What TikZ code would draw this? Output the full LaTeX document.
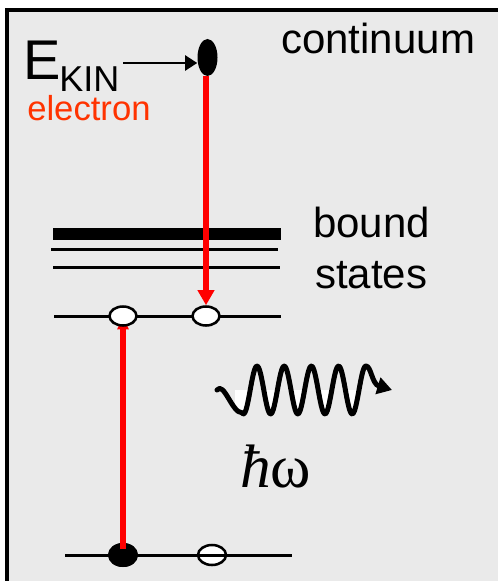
\documentclass[tikz,border=0pt]{standalone}
\usepackage{fontspec}
\setmainfont{Liberation Sans}
\newfontfamily\timesfont{Liberation Serif}
\usetikzlibrary{shapes.geometric,arrows.meta}
\definecolor{bg}{RGB}{234,234,234}
\definecolor{elred}{RGB}{255,51,0}
\begin{document}
\begin{tikzpicture}[x=0.75pt,y=-0.75pt,
  level/.style={line width=2.25pt},
  redarrow/.style={draw=red, line width=4.5pt, -{Triangle[length=11.25pt,width=12pt]}},
  openel/.style={ellipse, draw, line width=1.9pt, fill=white, inner sep=0pt, minimum width=20.25pt, minimum height=14.25pt},
  fullel/.style={ellipse, fill=black, inner sep=0pt},
  lbl/.style={inner sep=0pt, anchor=base west},
  big/.style={font=\fontsize{31.5}{38}\selectfont}]
\useasboundingbox (0,0) rectangle (498,581);
\clip (0,0) rectangle (498,581);
% frame
\draw[line width=3pt, fill=bg] (7,10) rectangle (530,620);
% texts
\node[lbl, font=\fontsize{42}{50}\selectfont] (E) at (23,80) {E};
\node[lbl, font=\fontsize{27}{32}\selectfont] (kin) at (59,92) {KIN};
\node[lbl, font=\fontsize{26}{31}\selectfont, text=elred] (elec) at (27,121) {electron};
\node[lbl, big] (cont) at (281,54) {continuum};
\node[lbl, big] (bound) at (313,237) {bound};
\node[lbl, big] (states) at (315,288) {states};
\node[lbl, font=\fontsize{46}{54}\selectfont] (hw) at (240,487) {{\timesfont\itshape ħ}{\timesfont ω}};
% bound states
\coordinate (b0l) at (53,234); \coordinate (b0r) at (281,234);
\coordinate (b1l) at (51,249); \coordinate (b1r) at (278,249);
\coordinate (b2l) at (53,267); \coordinate (b2r) at (280,267);
\draw[line width=9pt] (b0l) -- (b0r);
\draw[level] (b1l) -- (b1r);
\draw[level] (b2l) -- (b2r);
% upper level
\coordinate (l1l) at (54,316); \coordinate (l1r) at (281,316);
\draw[level] (l1l) -- (l1r);
% bottom level nodes
\node[fullel, minimum width=22.5pt, minimum height=18pt] (g1) at (123,555) {};
\node[openel, minimum width=21pt, minimum height=15pt] (g2) at (212,555) {};
\coordinate (l2l) at (65,555); \coordinate (l2r) at (292,555);
\draw[level] (l2l) -- (l2r);
\node[fullel, minimum width=22.5pt, minimum height=18pt] at (g1) {};
% electron in continuum
\node[fullel, minimum width=15pt, minimum height=27.75pt] (el) at (207.5,57.5) {};
\coordinate (ak) at (123,63);
\draw[line width=1.5pt, -{Triangle[length=9pt,width=11.25pt]}] (ak) -- (ak -| el.west);
% upper level holes
\coordinate (o1pos) at (123,316);
\coordinate (o2pos) at (206,316);
\draw[redarrow, line width=3.9pt, -{Triangle[length=10pt,width=8pt]}] ([yshift=4.5pt]g1.center) -- (o1pos);
\node[openel] (o1) at (o1pos) {};
\node[openel] (o2) at (o2pos) {};
\draw[redarrow] (el.south -| o2.north) -- (o2.north);
% photon
\begin{scope}
\clip (235,390) rectangle (396,420);
\fill[white] (217,390) .. controls (224,381) and (232,413) .. (242,412.8)
  -- plot[domain=242:366, samples=120] (\x, {390-24*cos(13.235*(\x-257))})
  .. controls (371,366) and (372,384) .. (392,390) -- cycle;
\end{scope}
\draw[line width=3.75pt, line cap=round, line join=round, -{Triangle[length=11pt,width=12.5pt]}]
  (217,390) .. controls (224,381) and (232,413) .. (242,412.8)
  -- plot[domain=242:366, samples=120] (\x, {390-24*cos(13.235*(\x-257))})
  .. controls (371,366) and (372,384) .. (392,390);
\end{tikzpicture}
\end{document}
